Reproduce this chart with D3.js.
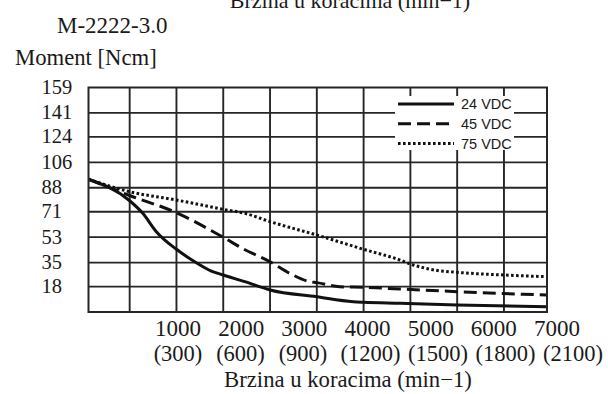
<!DOCTYPE html>
<html><head><meta charset="utf-8">
<script src="https://cdn.jsdelivr.net/npm/d3@7"></script>
<style>
html,body{margin:0;padding:0;background:#fff;}
svg{display:block;}
</style>
</head><body>
<svg id="c" width="608" height="394"></svg>
<script>
// ---- data ----
const chartTitle = "M-2222-3.0";
const yTitle = "Moment [Ncm]";
const xTitle = "Brzina u koracima (min\u22121)";
const yTicks = [18, 35, 53, 71, 88, 106, 124, 141, 159];
const xGrid = [500, 1000, 1500, 2000, 2500, 3000, 3500, 4000, 4500];
const xLabelsTop = ["1000", "2000", "3000", "4000", "5000", "6000", "7000"];
const xLabelsBottom = ["(300)", "(600)", "(900)", "(1200)", "(1500)", "(1800)", "(2100)"];
const xLabelVals = [1000, 2000, 3000, 4000, 5000, 6000, 7000];
const seriesNames = ["24 VDC", "45 VDC", "75 VDC"];

const rpm24 = [60, 500, 640, 785, 1000, 1195, 1373, 1500, 1730, 2000, 2500, 2890, 3000, 3390, 4000, 4960];
const vdc24 = [94, 78.8, 69.9, 56.9, 44.4, 35.6, 29.0, 26.2, 21.5, 15.6, 10.8, 7.3, 6.9, 6.2, 5.0, 3.8];
const rpm45 = [60, 500, 1000, 1500, 1720, 2000, 2210, 2420, 2500, 2745, 3000, 3390, 4000, 4960];
const vdc45 = [94, 82.5, 70.3, 52.9, 44.5, 35.6, 27.4, 21.5, 20.8, 17.9, 17.5, 16.3, 14.4, 12.0];
const rpm75 = [60, 500, 1000, 1500, 1730, 2000, 2500, 3000, 3390, 3500, 3760, 4000, 4500, 4960];
const vdc75 = [94, 85.2, 79.3, 72.7, 69.9, 64.0, 54.5, 44.4, 36.8, 34.0, 29.7, 28.1, 26.2, 25.0];

// ---- layout ----
const L = 88.5, R = 547, T = 87.5, B = 312;
const svg = d3.select("#c");
const x = d3.scaleLinear().domain([60, 4960]).range([L, R]);
const y = d3.scaleLinear().domain([0, 159]).range([B, T]);
const xl = d3.scaleLinear().domain([1000, 7000]).range([178, 557]);
const xl2 = d3.scaleLinear().domain([1000, 3000, 7000]).range([178, 303, 573]);
const serif = "'Liberation Serif','Times New Roman',serif";
const sans = "'Liberation Sans',Arial,sans-serif";
const ink = "#1a1a1a";

// cut-off title at top
svg.append("text").attr("x", 350).attr("y", 8).attr("text-anchor", "middle")
  .attr("font-family", serif).attr("font-size", 22).attr("fill", ink).text(xTitle);
svg.append("text").attr("x", 57).attr("y", 32.5)
  .attr("font-family", serif).attr("font-size", 23).attr("fill", ink).text(chartTitle);
svg.append("text").attr("x", 15).attr("y", 65)
  .attr("font-family", serif).attr("font-size", 22.7).attr("fill", ink).text(yTitle);

// grid
const g = svg.append("g");
g.selectAll("line.h").data(yTicks.filter(d => d < 159)).join("line")
  .attr("x1", L).attr("x2", R).attr("y1", d => y(d)).attr("y2", d => y(d))
  .attr("stroke", "#262626").attr("stroke-width", 1.9);
g.selectAll("line.v").data(xGrid).join("line")
  .attr("x1", d => x(d)).attr("x2", d => x(d)).attr("y1", T).attr("y2", B)
  .attr("stroke", "#262626").attr("stroke-width", 1.9);

// y tick labels
svg.append("g").selectAll("text").data(yTicks).join("text")
  .attr("x", 41.5).attr("y", d => y(d) + 6.5)
  .attr("font-family", serif).attr("font-size", 20.5).attr("fill", ink).text(d => d);

// x tick labels
svg.append("g").selectAll("text").data(xLabelVals).join("text")
  .attr("x", d => xl(d)).attr("y", 336).attr("text-anchor", "middle")
  .attr("font-family", serif).attr("font-size", 23).attr("fill", ink).text((d, i) => xLabelsTop[i]);
svg.append("g").selectAll("text").data(xLabelVals).join("text")
  .attr("x", d => xl2(d)).attr("y", 361).attr("text-anchor", "middle")
  .attr("font-family", serif).attr("font-size", 22.5).attr("fill", ink).text((d, i) => xLabelsBottom[i]);
svg.append("text").attr("x", 348).attr("y", 387).attr("text-anchor", "middle")
  .attr("font-family", serif).attr("font-size", 22.7).attr("fill", ink).text(xTitle);

// legend background
svg.append("rect").attr("x", 395).attr("y", 96).attr("width", 119).attr("height", 54).attr("fill", "#fff");

// curves
const line = d3.line().x(d => x(d[0])).y(d => y(d[1])).curve(d3.curveMonotoneX);
const series = [
  {xs: rpm24, ys: vdc24, dash: null},
  {xs: rpm45, ys: vdc45, dash: "13,6"},
  {xs: rpm75, ys: vdc75, dash: "2.6,2.4"}
];
series.forEach(s => {
  svg.append("path").datum(s.xs.map((v, i) => [v, s.ys[i]]))
    .attr("d", line).attr("fill", "none").attr("stroke", "#111")
    .attr("stroke-width", 3).attr("stroke-dasharray", s.dash);
});

// frame
svg.append("rect").attr("x", L).attr("y", T).attr("width", R - L).attr("height", B - T)
  .attr("fill", "none").attr("stroke", "#262626").attr("stroke-width", 2);

// legend
const ly = d3.scalePoint().domain(seriesNames).range([104, 143.5]);
const lg = svg.append("g");
seriesNames.forEach((n, i) => {
  lg.append("line").attr("x1", 398).attr("x2", 454).attr("y1", ly(n)).attr("y2", ly(n))
    .attr("stroke", "#111").attr("stroke-width", 3)
    .attr("stroke-dasharray", series[i].dash);
  lg.append("text").attr("x", 461).attr("y", ly(n) + 5.2)
    .attr("font-family", sans).attr("font-size", 14.5).attr("fill", ink).text(n);
});
</script>
</body></html>
